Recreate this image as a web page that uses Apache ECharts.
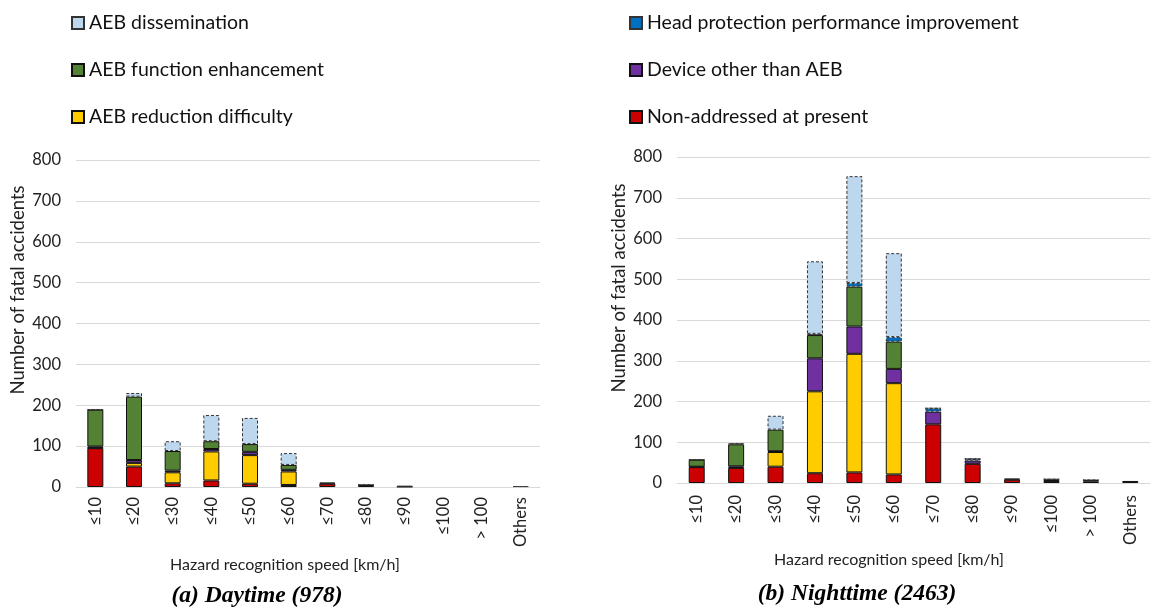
<!DOCTYPE html>
<html>
<head>
<meta charset="utf-8">
<script src="https://cdn.jsdelivr.net/npm/echarts@6/dist/echarts.min.js"></script>
<style>html,body{margin:0;padding:0;background:#fff}#c{width:1157px;height:609px}</style>
</head>
<body>
<div id="c"></div>
<script>
var categories = ['≤10','≤20','≤30','≤40','≤50','≤60','≤70','≤80','≤90','≤100','> 100','Others'];
var yTicks = [0,100,200,300,400,500,600,700,800];
var seriesNames = ['Non-addressed at present','AEB reduction difficulty','Device other than AEB','AEB function enhancement','Head protection performance improvement','AEB dissemination'];

// Daytime (978)
var dayNonAddressed = [95, 50, 9, 16, 8, 5, 8, 3, 1, 0, 0, 0];
var dayReduction    = [1, 9, 27, 71, 70, 33, 0, 0, 0, 0, 0, 0];
var dayDevice       = [3, 7, 4, 6, 8, 4, 3, 2, 0, 0, 0, 0];
var dayFunction     = [90, 155, 48, 19, 19, 12, 0, 0, 0, 0, 0, 0];
var dayHead         = [0, 0, 0, 0, 0, 0, 0, 0, 0, 0, 0, 0];
var dayDissem       = [1, 9, 24, 64, 64, 29, 0, 1, 2, 0, 0, 2];

// Nighttime (2463)
var nightNonAddressed = [39, 37, 40, 24, 26, 21, 144, 47, 8, 5, 4, 5];
var nightReduction    = [0, 0, 36, 201, 291, 224, 0, 0, 0, 0, 0, 0];
var nightDevice       = [1, 4, 2, 81, 67, 35, 31, 8, 3, 4, 3, 0];
var nightFunction     = [17, 54, 53, 57, 98, 67, 0, 0, 0, 0, 0, 0];
var nightHead         = [0, 0, 0, 3, 9, 11, 8, 4, 0, 1, 1, 0];
var nightDissem       = [1, 3, 34, 178, 262, 206, 1, 1, 0, 0, 0, 0];

var colors = ['#CC0000','#FFCC00','#7030A0','#548235','#0070C0','#BDD7EE'];
var dashed = [false,false,false,false,true,true];

var dayData = [dayNonAddressed, dayReduction, dayDevice, dayFunction, dayHead, dayDissem];
var nightData = [nightNonAddressed, nightReduction, nightDevice, nightFunction, nightHead, nightDissem];

var FONT = 'Lato';
function mkSeries(dataArr, idx, stack) {
  return dataArr.map(function (d, i) {
    return {
      name: seriesNames[i], type: 'bar', stack: stack,
      xAxisIndex: idx, yAxisIndex: idx,
      data: d.map(function (v) { return v === 0 ? '-' : v; }),
      barWidth: 16,
      itemStyle: {
        color: colors[i],
        borderColor: dashed[i] ? '#333' : '#111',
        borderWidth: 1,
        borderType: dashed[i] ? [3, 2] : 'solid'
      },
      emphasis: {disabled: true}
    };
  });
}

function xAxis(gi, margin) {
  return {
    type: 'category', gridIndex: gi, data: categories,
    axisLine: {lineStyle: {color: '#d9d9d9', width: 1}},
    axisTick: {show: false},
    axisLabel: {rotate: 90, interval: 0, margin: margin, fontFamily: FONT, fontSize: 16.5, color: '#222'}
  };
}
function yAxis(gi) {
  return {
    type: 'value', gridIndex: gi, min: 0, max: 800, interval: 100,
    axisLine: {show: false}, axisTick: {show: false},
    splitLine: {lineStyle: {color: '#d9d9d9', width: 1}},
    axisLabel: {margin: 15, fontFamily: FONT, fontSize: 16.5, color: '#222'}
  };
}

var legendText = {fontFamily: FONT, fontSize: 19.5, color: '#111'};
var chart = echarts.init(document.getElementById('c'));
chart.setOption({
  animation: false,
  grid: [
    {left: 76, right: 617, top: 160, bottom: 122},
    {left: 677, right: 7, top: 157, bottom: 126}
  ],
  xAxis: [xAxis(0, 10), xAxis(1, 12)],
  yAxis: [yAxis(0), yAxis(1)],
  legend: [
    {data: [seriesNames[5], seriesNames[3], seriesNames[1]], orient: 'vertical', left: 66, top: 8,
     itemWidth: 12, itemHeight: 12, itemGap: 27, icon: 'rect', textStyle: legendText, selectedMode: false},
    {data: [seriesNames[4], seriesNames[2], seriesNames[0]], orient: 'vertical', left: 624, top: 8,
     itemWidth: 12, itemHeight: 12, itemGap: 27, icon: 'rect', textStyle: legendText, selectedMode: false}
  ],
  graphic: [
    {type: 'text', x: 18, y: 290, rotation: Math.PI / 2,
     style: {text: 'Number of fatal accidents', font: '18.5px ' + FONT, fill: '#222', textAlign: 'center', textVerticalAlign: 'middle'}},
    {type: 'text', x: 619, y: 288, rotation: Math.PI / 2,
     style: {text: 'Number of fatal accidents', font: '18.5px ' + FONT, fill: '#222', textAlign: 'center', textVerticalAlign: 'middle'}},
    {type: 'text', x: 285, y: 565,
     style: {text: 'Hazard recognition speed [km/h]', font: '16px ' + FONT, fill: '#222', textAlign: 'center', textVerticalAlign: 'middle'}},
    {type: 'text', x: 889, y: 560,
     style: {text: 'Hazard recognition speed [km/h]', font: '16px ' + FONT, fill: '#222', textAlign: 'center', textVerticalAlign: 'middle'}},
    {type: 'text', x: 257, y: 596,
     style: {text: '(a) Daytime (978)', font: 'italic bold 23.5px "Liberation Serif"', fill: '#000', textAlign: 'center', textVerticalAlign: 'middle'}},
    {type: 'text', x: 857, y: 594,
     style: {text: '(b) Nighttime (2463)', font: 'italic bold 23.5px "Liberation Serif"', fill: '#000', textAlign: 'center', textVerticalAlign: 'middle'}}
  ],
  series: mkSeries(dayData, 0, 'day').concat(mkSeries(nightData, 1, 'night'))
});
</script>
</body>
</html>
